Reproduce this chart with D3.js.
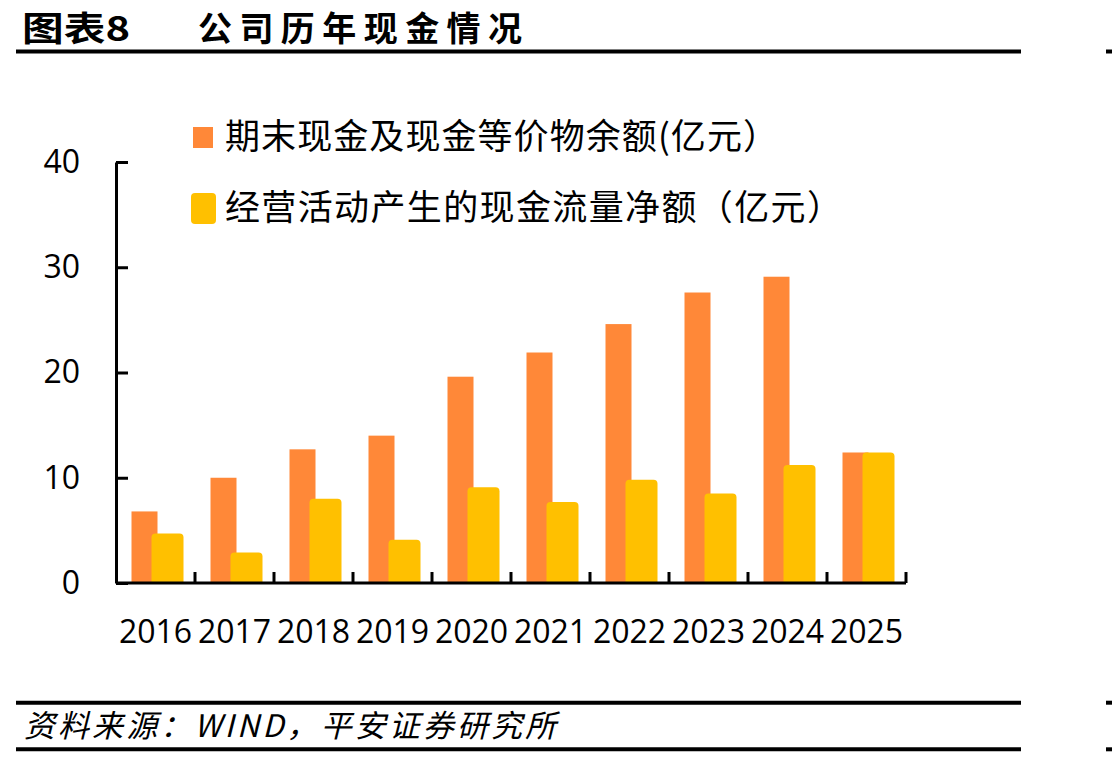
<!DOCTYPE html>
<html><head><meta charset="utf-8">
<script src="https://cdn.jsdelivr.net/npm/d3@7"></script>
<style>body{margin:0;background:#fff}svg{display:block}</style>
</head><body>
<svg id="c" width="1112" height="758"></svg>
<script>
const years = ["2016","2017","2018","2019","2020","2021","2022","2023","2024","2025"];
const cashBalance = [6.8, 10.0, 12.7, 14.0, 19.6, 21.9, 24.6, 27.6, 29.1, 12.4];
const operatingCashFlow = [4.7, 2.9, 8.0, 4.1, 9.1, 7.7, 9.8, 8.5, 11.2, 12.4];
const yTicks = [0, 10, 20, 30, 40];
const seriesNames = ["期末现金及现金等价物余额(亿元）", "经营活动产生的现金流量净额（亿元）"];
const titleLabel = "图表8";
const titleText = "公司历年现金情况";
const sourceText = "资料来源：WIND，平安证券研究所";

const ORANGE = "#FF8838", GOLD = "#FFC000";
const svg = d3.select("#c");
const cjk = "'Noto Sans CJK SC','Noto Sans',sans-serif";
const num = "'Open Sans','Noto Sans',sans-serif";

// header
svg.append("text").attr("x", 22).attr("y", 41).attr("font-family", cjk).attr("font-weight", 700)
  .attr("font-size", 34).attr("textLength", 108).attr("lengthAdjust", "spacingAndGlyphs").text(titleLabel);
svg.append("text").attr("x", 198).attr("y", 41).attr("font-family", cjk).attr("font-weight", 700)
  .attr("font-size", 34).attr("textLength", 324).attr("lengthAdjust", "spacing").text(titleText);
const rule = (y) => {
  svg.append("line").attr("x1", 16).attr("x2", 1021).attr("y1", y).attr("y2", y).attr("stroke", "#000").attr("stroke-width", 4);
  svg.append("line").attr("x1", 1106).attr("x2", 1112).attr("y1", y).attr("y2", y).attr("stroke", "#000").attr("stroke-width", 4);
};
rule(51.5); rule(702.7); rule(749.3);
svg.append("text").attr("x", 24).attr("y", 737).attr("font-family", cjk).attr("font-style", "italic")
  .attr("font-size", 31).attr("textLength", 532).attr("lengthAdjust", "spacing").text(sourceText);

// scales
const x = d3.scaleBand().domain(years).range([116, 906]).padding(0);
const y = d3.scaleLinear().domain([0, 40]).range([583, 162]);

// clip so rounded bottoms hide below axis
svg.append("clipPath").attr("id", "plot").append("rect").attr("x", 100).attr("y", 100).attr("width", 820).attr("height", 483);

const g = svg.append("g").attr("clip-path", "url(#plot)");
g.selectAll("rect.o").data(years).join("rect").attr("class", "o")
  .attr("x", d => x(d) + 15.5).attr("width", 26)
  .attr("y", (d, i) => y(cashBalance[i])).attr("height", (d, i) => y(0) - y(cashBalance[i]))
  .attr("fill", ORANGE);
g.selectAll("rect.y").data(years).join("rect").attr("class", "y")
  .attr("x", d => x(d) + 35.5).attr("width", 32)
  .attr("y", (d, i) => y(operatingCashFlow[i])).attr("height", (d, i) => y(0) - y(operatingCashFlow[i]) + 6)
  .attr("rx", 4).attr("fill", GOLD);

// y axis
const ya = svg.append("g").attr("transform", "translate(116,0)")
  .call(d3.axisLeft(y).tickValues(yTicks).tickSizeInner(-12).tickSizeOuter(0).tickPadding(36).tickFormat(d3.format("d")));
ya.select(".domain").attr("stroke-width", 3);
ya.selectAll(".tick line").attr("stroke-width", 3);
ya.selectAll("text").attr("font-family", num).attr("font-size", 32).attr("fill", "#000");

// x axis
const xa = svg.append("g").attr("transform", "translate(0,583)")
  .call(d3.axisBottom(x).tickSize(0).tickPadding(37));
xa.select(".domain").attr("stroke-width", 3).attr("d", "M116,0H906");
xa.selectAll("text").attr("font-family", num).attr("font-size", 32).attr("fill", "#000");
svg.append("g").selectAll("line").data(years).join("line")
  .attr("x1", d => x(d) + x.bandwidth()).attr("x2", d => x(d) + x.bandwidth())
  .attr("y1", 583).attr("y2", 572).attr("stroke", "#000").attr("stroke-width", 3);

// legend
const lg = svg.append("g");
lg.append("rect").attr("x", 193).attr("y", 127).attr("width", 20).attr("height", 21).attr("fill", ORANGE);
lg.append("text").attr("x", 225).attr("y", 149).attr("font-family", cjk).attr("font-size", 35)
  .attr("textLength", 553).attr("lengthAdjust", "spacing").text(seriesNames[0]);
lg.append("rect").attr("x", 191).attr("y", 193).attr("width", 25).attr("height", 31).attr("rx", 4).attr("fill", GOLD);
lg.append("text").attr("x", 225).attr("y", 220).attr("font-family", cjk).attr("font-size", 35)
  .attr("textLength", 617).attr("lengthAdjust", "spacing").text(seriesNames[1]);
</script>
</body></html>
